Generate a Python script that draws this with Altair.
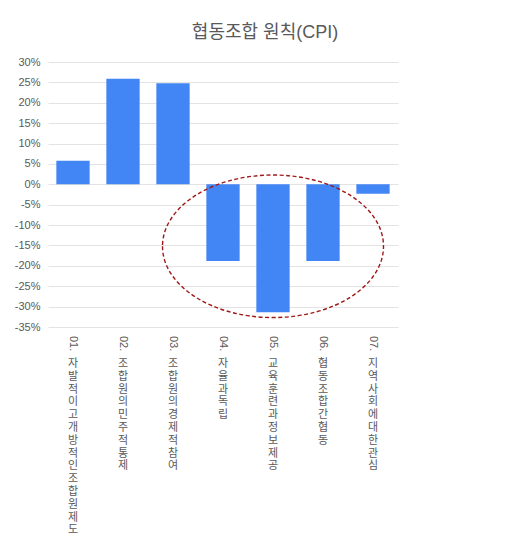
import altair as alt
import pandas as pd

codes = ["01.", "02.", "03.", "04.", "05.", "06.", "07."]
names = [
    "자발적이고 개방적인 조합원 제도",
    "조합원의 민주적 통제",
    "조합원의 경제적 참여",
    "자율과 독립",
    "교육훈련과 정보제공",
    "협동조합 간 협동",
    "지역사회에 대한 관심",
]
values = [5.8, 25.9, 24.8, -18.8, -31.4, -18.8, -2.3]
y_ticks = [30, 25, 20, 15, 10, 5, 0, -5, -10, -15, -20, -25, -30, -35]

df = pd.DataFrame({
    "cat": [c + " " + n for c, n in zip(codes, names)],
    "code": codes,
    "chars": [list(n.replace(" ", "")) for n in names],
    "value": values,
})
ann = pd.DataFrame({"cat": [df["cat"][4]], "value": [-15.2]})

FONT = "Liberation Sans, Noto Sans CJK KR"
GRAY = "#595959"

x = alt.X("cat:N", sort=list(df["cat"]), axis=None,
          scale=alt.Scale(paddingInner=0.334, paddingOuter=0.167))
y = alt.Y("value:Q", scale=alt.Scale(domain=[-35, 30], nice=False, zero=False),
          axis=alt.Axis(values=y_ticks, tickCount=14, labelExpr="datum.value + '%'",
                        title=None, domain=False, ticks=False, grid=True,
                        gridColor="#e3e3e3", labelColor=GRAY, labelFont=FONT,
                        labelFontSize=11, labelPadding=8, labelOverlap=False,
                        labelBound=False))

bars = alt.Chart(df).mark_bar(color="#4285f4").encode(x=x, y=y)

code_text = alt.Chart(df).mark_text(
    angle=90, align="left", baseline="middle", fontSize=11, font=FONT, color=GRAY
).encode(x=x, y=alt.value(274), text="code:N")

name_text = alt.Chart(df).mark_text(
    align="center", baseline="top", fontSize=11, lineHeight=12.8, font=FONT, color=GRAY
).encode(x=x, y=alt.value(296), text="chars")

ellipse = alt.Chart(ann).mark_point(
    shape="M -1 0 A 1 0.645 0 1 0 1 0 A 1 0.645 0 1 0 -1 0",
    size=48841, filled=False, stroke="#a01818", strokeWidth=1.4,
    strokeDash=[4, 2.5], opacity=1
).encode(x=x, y=y)

chart = alt.layer(bars, ellipse, code_text, name_text).properties(
    width=350, height=265,
    title=alt.Title("협동조합 원칙(CPI)", font=FONT, fontSize=18, fontWeight="normal",
                    color=GRAY, anchor="middle", dx=42, offset=14),
    autosize=alt.AutoSizeParams(type="none"),
    padding={"left": 40, "top": 54, "right": 100, "bottom": 210},
).configure_view(stroke=None)

chart.save("out.html", embed_options={"renderer": "svg", "actions": False})
